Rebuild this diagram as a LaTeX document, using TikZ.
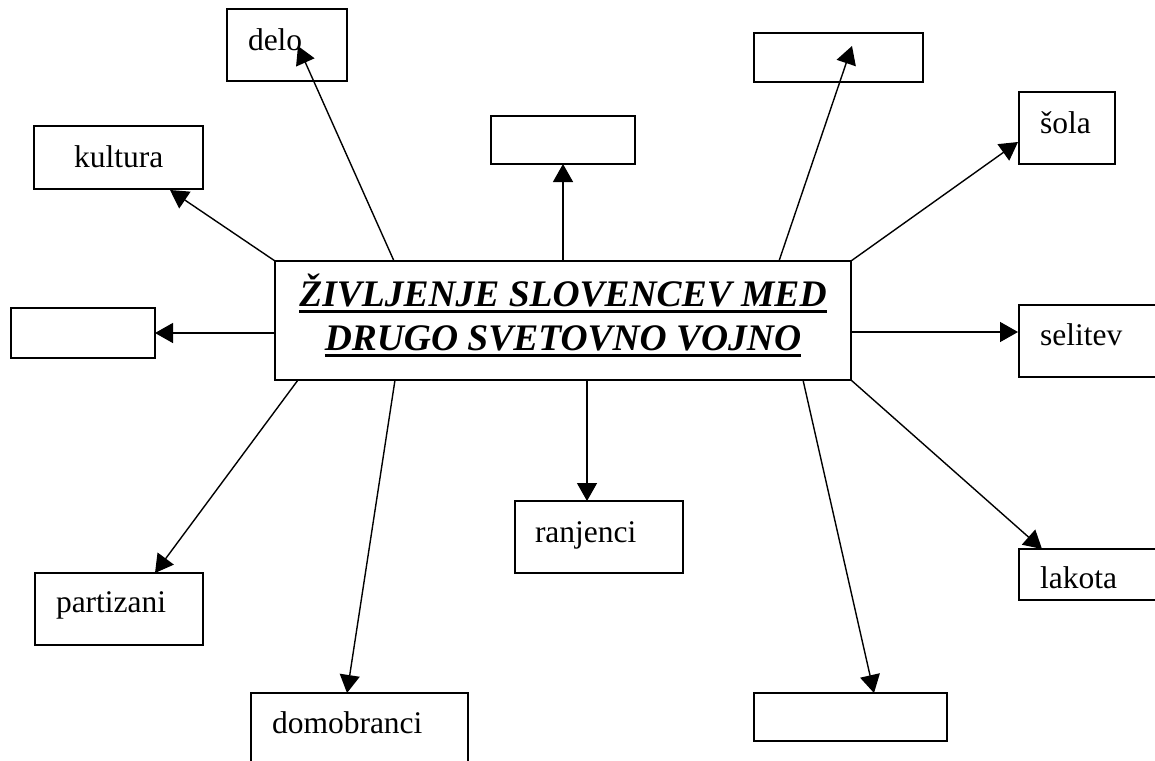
\documentclass[tikz,border=0pt]{standalone}
\usepackage{fontspec}
\setmainfont{Liberation Serif}
\usetikzlibrary{arrows.meta}
\begin{document}
\begin{tikzpicture}[x=1pt,y=-1pt,
  box/.style={draw=black,line width=1.4pt,fill=white,inner sep=0pt,outer sep=0pt,anchor=north west},
  lbl/.style={inner sep=0pt,outer sep=0pt,anchor=base west,font=\fontsize{31.5}{36}\selectfont},
  ttl/.style={inner sep=0pt,outer sep=0pt,anchor=base,font=\fontsize{37.5}{42}\selectfont\bfseries\itshape},
  arr/.style={line width=1.4pt,-{Triangle[length=18pt,width=20pt]}},
  uline/.style={line width=3pt}]
\fill[white] (0,0) rectangle (1155,760);
\useasboundingbox (0,0) rectangle (1155,760);
% central box
\node[box,minimum width=576pt,minimum height=119pt] (main) at (275,261) {};
\node[ttl] (t1) at (563,306.5) {ŽIVLJENJE SLOVENCEV MED};
\node[ttl] (t2) at (563,350) {DRUGO SVETOVNO VOJNO};
\draw[uline] ([yshift=-5pt]t1.base west) -- ([yshift=-5pt]t1.base east);
\draw[uline] ([yshift=-5pt]t2.base west) -- ([yshift=-5pt]t2.base east);
% surrounding boxes
\node[box,minimum width=120pt,minimum height=72pt] (delo) at (227,9) {};
\node[box,minimum width=169pt,minimum height=63pt] (kultura) at (34,126) {};
\node[box,minimum width=144pt,minimum height=48pt] (topc) at (491,116) {};
\node[box,minimum width=169pt,minimum height=49pt] (topr) at (754,33) {};
\node[box,minimum width=96pt,minimum height=72pt] (sola) at (1019,92) {};
\node[box,minimum width=150pt,minimum height=72pt] (selitev) at (1019,305) {};
\node[box,minimum width=144pt,minimum height=50pt] (leftb) at (11,308) {};
\node[box,minimum width=168pt,minimum height=72pt] (ranjenci) at (515,501) {};
\node[box,minimum width=150pt,minimum height=51pt] (lakota) at (1019,549) {};
\node[box,minimum width=168pt,minimum height=72pt] (partizani) at (35,573) {};
\node[box,minimum width=217pt,minimum height=90pt] (domo) at (251,693) {};
\node[box,minimum width=193pt,minimum height=48pt] (botr) at (754,693) {};
% labels
\node[lbl] (delo-t) at (248,50) {delo};
\node[lbl] (kultura-t) at (74,167) {kultura};
\node[lbl] (sola-t) at (1040,133) {šola};
\node[lbl] (selitev-t) at (1040,345) {selitev};
\node[lbl] (ranjenci-t) at (535,542) {ranjenci};
\node[lbl] (lakota-t) at (1040,588) {lakota};
\node[lbl] (partizani-t) at (56,612) {partizani};
\node[lbl] (domo-t) at (272,733) {domobranci};
% connectors
\draw[arr] (main.north west) -- ([xshift=136pt,yshift=-1pt]kultura.south west);
\draw[arr] ([xshift=119pt]main.north west) -- ([xshift=71pt,yshift=-37pt]delo.north west);
\draw[arr] (main.north) -- (topc.south);
\draw[arr] ([xshift=-72pt]main.north east) -- ([xshift=98pt,yshift=-13pt]topr.north west);
\draw[arr] (main.north east) -- ([xshift=-1pt,yshift=-50pt]sola.north west);
\draw[arr] ([yshift=-71pt]main.north east) -- ([xshift=-1pt,yshift=-27pt]selitev.north west);
\draw[arr] ([yshift=-72pt]main.north west) -- ([yshift=-25pt]leftb.north east);
\draw[arr] (main.south east) -- ([xshift=23pt]lakota.north west);
\draw[arr] ([xshift=-48pt]main.south east) -- ([xshift=120pt]botr.north west);
\draw[arr] ([xshift=24pt]main.south) -- ([xshift=72pt]ranjenci.north west);
\draw[arr] ([xshift=120pt]main.south west) -- ([xshift=96pt]domo.north west);
\draw[arr] ([xshift=23pt]main.south west) -- ([xshift=120pt]partizani.north west);
\end{tikzpicture}
\end{document}
